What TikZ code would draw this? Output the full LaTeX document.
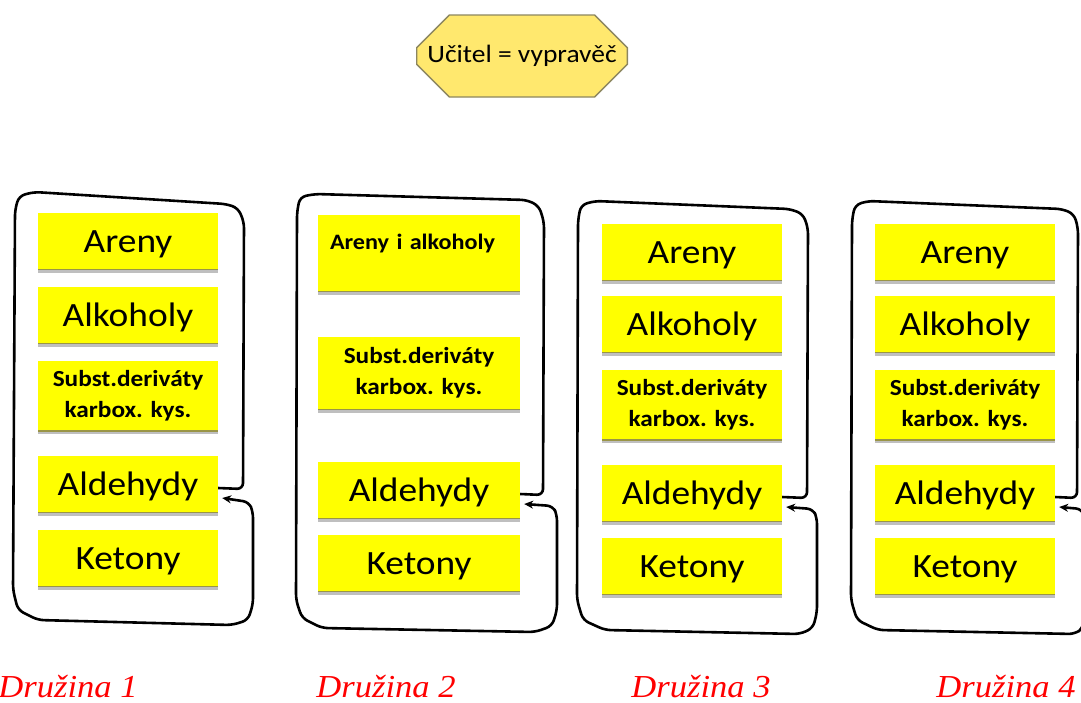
\documentclass[tikz,border=0pt]{standalone}
\usepackage{fontspec}
\usepackage{tikz}
\usetikzlibrary{arrows.meta, shapes.misc, shadows}
\newfontfamily\boxfont[FakeStretch=1.1]{Carlito}
\newfontfamily\labelfont[FakeStretch=1.08]{Liberation Serif}
\definecolor{topicyellow}{RGB}{255,255,0}
\definecolor{tellerfill}{RGB}{255,232,110}
\definecolor{tellerdraw}{RGB}{140,134,96}

\begin{document}
\begin{tikzpicture}[x=1pt, y=-1pt]
\tikzstyle{box} = [rectangle, fill=topicyellow, minimum width=180pt, minimum height=57pt, inner sep=0pt,
    drop shadow={shadow xshift=0pt, shadow yshift=-3pt, opacity=0.25, fill=black},
    path picture={\draw[yellow!55!black, line width=2pt] (path picture bounding box.south west) -- (path picture bounding box.south east);}]
\tikzstyle{topic} = [box, text height=22pt, text depth=0pt, font=\boxfont\fontsize{34}{34}\selectfont]
\tikzstyle{topictwo} = [box, minimum height=70pt, align=center,
    font=\boxfont\bfseries\fontsize{23}{31}\selectfont]
\tikzstyle{loop} = [draw, line width=2.6pt, rounded corners=6pt, -{Stealth[length=9pt, width=8pt]}]
\tikzstyle{team} = [font=\labelfont\itshape\fontsize{32}{32}\selectfont, text=red, anchor=base]
\tikzstyle{teller} = [chamfered rectangle, chamfered rectangle xsep=22pt, chamfered rectangle ysep=22pt,
    draw=tellerdraw, line width=1.3pt, fill=tellerfill, minimum width=205pt, minimum height=82pt,
    inner sep=0pt, font=\boxfont\fontsize{25}{25}\selectfont]

 \useasboundingbox (0,0) rectangle (1081,702);

 \node [teller] (teller) at (522,56) {Učitel = vypravěč};

 % Druzina 1
 \node [topic] (are1) at (128,241) {Areny};
 \node [topic, below of=are1, node distance=74pt] (alk1) {Alkoholy};
 \node [topictwo, below of=alk1, node distance=81pt] (sub1) {Subst.deriváty\\karbox. kys.};
 \node [topic, below of=sub1, node distance=88pt] (ald1) {Aldehydy};
 \node [topic, below of=ald1, node distance=74pt] (ket1) {Ketony};

 % Druzina 2
 \node [box, minimum width=202pt, minimum height=67pt, inner sep=12pt, text height=23pt, text depth=30pt,
    text width=178pt, align=left, font=\boxfont\bfseries\fontsize{22}{22}\selectfont] (are2) at (419,253) {Areny i alkoholy};
 \node [topictwo, minimum width=202pt, minimum height=73pt, below of=are2, node distance=120pt] (sub2) {Subst.deriváty\\karbox. kys.};
 \node [topic, minimum width=202pt, below of=sub2, node distance=117pt] (ald2) {Aldehydy};
 \node [topic, minimum width=202pt, below of=ald2, node distance=73pt] (ket2) {Ketony};

 % Druzina 3
 \node [topic] (are3) at (692,252) {Areny};
 \node [topic, below of=are3, node distance=72pt] (alk3) {Alkoholy};
 \node [topictwo, below of=alk3, node distance=81pt] (sub3) {Subst.deriváty\\karbox. kys.};
 \node [topic, below of=sub3, node distance=88pt] (ald3) {Aldehydy};
 \node [topic, below of=ald3, node distance=73pt] (ket3) {Ketony};

 % Druzina 4
 \node [topic] (are4) at (965,252) {Areny};
 \node [topic, below of=are4, node distance=72pt] (alk4) {Alkoholy};
 \node [topictwo, below of=alk4, node distance=81pt] (sub4) {Subst.deriváty\\karbox. kys.};
 \node [topic, below of=sub4, node distance=88pt] (ald4) {Aldehydy};
 \node [topic, below of=ald4, node distance=73pt] (ket4) {Ketony};

 \path [loop] ([yshift=-4pt]ald1.east) -- (243,489) -- (244,222) -- (238,208) -- (226,204) -- (34,192)
    -- (19,196) -- (15,210) -- (13,590) -- (18,610) -- (38,620) -- (232,625) -- (248,620)
    -- (253,604) -- (253,512) -- (249,502) -- ([xshift=4pt, yshift=-14pt]ald1.east);
 \path [loop] ([yshift=-4pt]ald2.east) -- (543,495) -- (544,222) -- (539,206) -- (527,200) -- (315,194)
    -- (300,197) -- (297,212) -- (296,600) -- (302,618) -- (322,628) -- (535,632) -- (552,626)
    -- (557,610) -- (557,515) -- (553,506) -- ([xshift=4pt, yshift=-14pt]ald2.east);
 \path [loop] ([yshift=-4pt]ald3.east) -- (807,498) -- (808,228) -- (803,214) -- (790,209) -- (595,201)
    -- (581,205) -- (578,220) -- (577,600) -- (583,620) -- (605,630) -- (800,634) -- (813,628)
    -- (817,612) -- (817,518) -- (813,509) -- ([xshift=4pt, yshift=-14pt]ald3.east);
 \path [loop] ([yshift=-4pt]ald4.east) -- (1077,498) -- (1078,228) -- (1074,214) -- (1062,209) -- (868,201)
    -- (855,205) -- (852,220) -- (851,600) -- (857,620) -- (878,630) -- (1075,634) -- (1083,628)
    -- (1085,612) -- (1085,518) -- (1082,509) -- ([xshift=4pt, yshift=-14pt]ald4.east);

 \node [team] (team1) at (68,697) {Družina 1};
 \node [team] (team2) at (386,697) {Družina 2};
 \node [team] (team3) at (701,697) {Družina 3};
 \node [team] (team4) at (1006,697) {Družina 4};
\end{tikzpicture}
\end{document}
